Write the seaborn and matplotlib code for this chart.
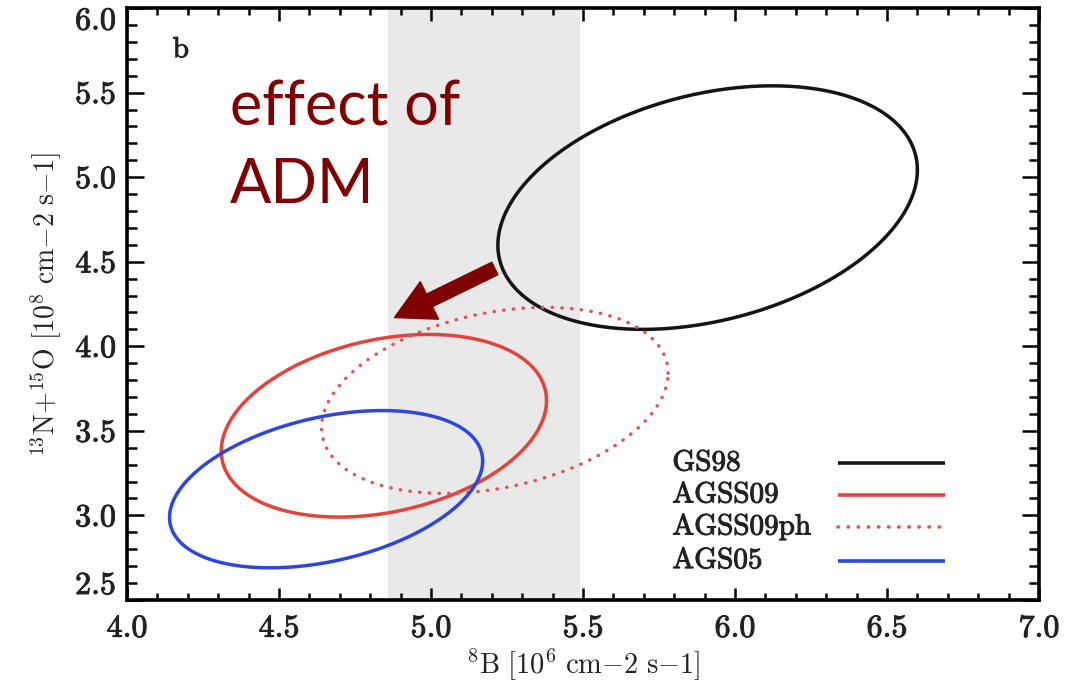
import numpy as np
import pandas as pd
import matplotlib
matplotlib.use("Agg")
import matplotlib.pyplot as plt
import matplotlib.patheffects as pe
from matplotlib.ticker import MultipleLocator
import seaborn as sns

# Solar-model confidence ellipses: centre, half-extents along each axis and phase (tilt)
models = ["GS98", "AGSS09", "AGSS09ph", "AGS05"]
center_b8 = [5.91, 4.845, 5.21, 4.655]
center_cno = [4.82, 3.53, 3.68, 3.155]
half_b8 = [0.69, 0.535, 0.57, 0.515]
half_cno = [0.72, 0.54, 0.55, 0.465]
tilt_phase_deg = [72.0, 74.0, 73.0, 69.0]

colors = {"GS98": "#141414", "AGSS09": "#e5423b", "AGSS09ph": "#e0555a", "AGS05": "#2f45e0"}
dashes = {"GS98": "", "AGSS09": "", "AGSS09ph": (0.1, 2.7), "AGS05": ""}

# Measured 8B flux band
band_b8 = (4.86, 5.49)

# Arrow showing the shift due to asymmetric dark matter
arrow_from = (5.21, 4.46)
arrow_to = (4.88, 4.17)

x_ticks = [4.0, 4.5, 5.0, 5.5, 6.0, 6.5, 7.0]
y_ticks = [2.5, 3.0, 3.5, 4.0, 4.5, 5.0, 5.5, 6.0]

sns.set_theme(style="ticks")
plt.rcParams["font.family"] = ["cmr10", "DejaVu Serif"]
plt.rcParams["mathtext.fontset"] = "cm"
plt.rcParams["axes.formatter.use_mathtext"] = True

bold = [pe.withStroke(linewidth=0.7, foreground="#222222")]

rows = []
t = np.linspace(0, 2 * np.pi, 500)
for m, cx, cy, ax_, ay_, ph in zip(models, center_b8, center_cno, half_b8, half_cno, tilt_phase_deg):
    xs = cx + ax_ * np.cos(t)
    ys = cy + ay_ * np.cos(t - np.deg2rad(ph))
    for i, (xv, yv) in enumerate(zip(xs, ys)):
        rows.append({"model": m, "i": i, "b8": xv, "cno": yv})
df = pd.DataFrame(rows)

fig = plt.figure(figsize=(10.77, 6.86), dpi=100)
ax = fig.add_axes([0.1179, 0.1254, 0.8468, 0.8629])

ax.axvspan(*band_b8, color="#e9e9e9", lw=0, zorder=0)

sns.lineplot(data=df, x="b8", y="cno", hue="model", style="model", hue_order=models,
             style_order=models, palette=colors, dashes=dashes, sort=False,
             estimator=None, units="model", lw=2.5, legend=False, ax=ax,
             dash_capstyle="round", zorder=3)

ax.set_xlim(4.0, 7.0)
ax.set_ylim(2.5, 6.0)
ax.set_xticks(x_ticks)
ax.set_yticks(y_ticks)
ax.set_xticklabels([f"{v:.1f}" for v in x_ticks])
ax.set_yticklabels([f"{v:.1f}" for v in y_ticks])
ax.xaxis.set_minor_locator(MultipleLocator(0.1))
ax.yaxis.set_minor_locator(MultipleLocator(0.1))
ax.tick_params(which="both", direction="in", top=True, right=True, width=1.8, color="black")
ax.tick_params(axis="x", which="major", length=9, pad=11, labelsize=23)
ax.tick_params(axis="x", which="minor", length=5)
ax.tick_params(axis="y", which="major", length=12, pad=8, labelsize=23)
ax.tick_params(axis="y", which="minor", length=7)
for lab in ax.get_xticklabels() + ax.get_yticklabels():
    lab.set_path_effects(bold)
    lab.set_color("#222222")
# keep the end labels of the y axis inside the frame height
ylabs = ax.get_yticklabels()
ylabs[0].set_va("bottom")
ylabs[-1].set_va("top")
for s in ax.spines.values():
    s.set_linewidth(2.6)
    s.set_color("black")

ax.set_xlabel(r"$^{8}\mathrm{B}\ [10^{6}\ \mathrm{cm}{-}2\ \mathrm{s}{-}1]$", fontsize=20.5,
              labelpad=3, color="#222222")
ax.set_ylabel(r"$^{13}\mathrm{N}{+}^{15}\mathrm{O}\ [10^{8}\ \mathrm{cm}{-}2\ \mathrm{s}{-}1]$",
              fontsize=20, labelpad=8, color="#222222")

ax.text(0.059, 0.929, "b", transform=ax.transAxes, fontsize=21, ha="center", va="center",
        color="#222222", path_effects=bold)

# Legend drawn as label column with line samples on the right
leg_y = [0.231, 0.177, 0.123, 0.066]
for m, yy in zip(models, leg_y):
    ax.text(0.598, yy, m, transform=ax.transAxes, fontsize=21, ha="left", va="center",
            color="#222222", path_effects=bold)
    ls = (0, (0.1, 2.7)) if m == "AGSS09ph" else "-"
    ax.plot([0.780, 0.897], [yy, yy], transform=ax.transAxes, color=colors[m], lw=2.6,
            ls=ls, dash_capstyle="round", solid_capstyle="butt")

ax.annotate("", xy=arrow_to, xytext=arrow_from,
            arrowprops=dict(arrowstyle="simple,head_length=1.4,head_width=1.5,tail_width=0.5",
                            color="#7f0000", mutation_scale=20, shrinkA=0, shrinkB=0),
            zorder=5)

fig.text(0.2136, 0.884, "effect of\nADM", color="#800000", fontsize=44,
         family=["Lato", "DejaVu Sans"], ha="left", va="top", linespacing=1.45)

fig.savefig("out.png", dpi=100, facecolor="white")
